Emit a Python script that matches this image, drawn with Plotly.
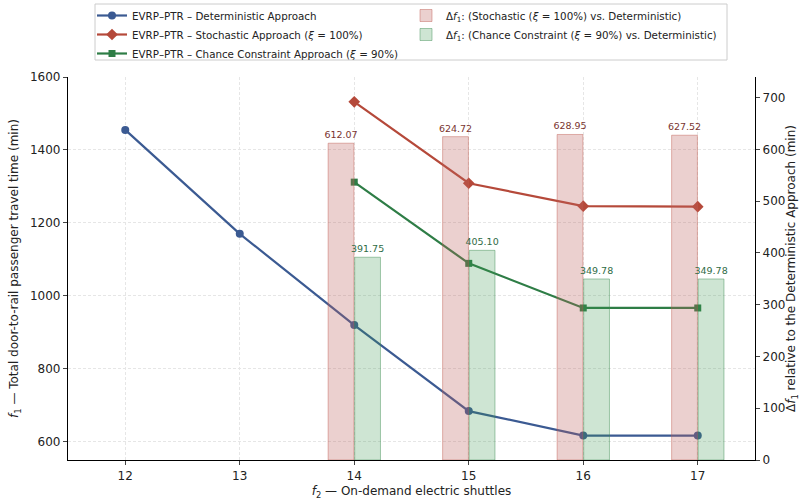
import plotly.graph_objects as go

# Number of on-demand electric shuttles (f2)
shuttles_det = [12, 13, 14, 15, 16, 17]
shuttles_alt = [14, 15, 16, 17]

# Total door-to-rail passenger travel time f1 (min)
f1_deterministic = [1455, 1170, 920, 684, 617, 617]
f1_stochastic = [1532.07, 1308.72, 1245.95, 1244.52]
f1_chance = [1311.75, 1089.10, 966.78, 966.78]

# Differences relative to the deterministic approach (min)
delta_stochastic = [612.07, 624.72, 628.95, 627.52]
delta_chance = [391.75, 405.10, 349.78, 349.78]

BLUE = "#3b5a92"
RED = "#b5493a"
GREEN = "#2e7d46"
FONT = "DejaVu Sans"

# Plot-area geometry (pixels) used to place the legends in paper units
L, R, T, B = 68, 45, 77, 40
PW, PH = 800 - L - R, 500 - T - B

fig = go.Figure()

fig.add_trace(go.Scatter(
    x=shuttles_det, y=f1_deterministic, mode="lines+markers",
    name="EVRP–PTR – Deterministic Approach",
    line=dict(color=BLUE, width=2.2),
    marker=dict(symbol="circle", size=8, color=BLUE),
    legend="legend",
))
fig.add_trace(go.Scatter(
    x=shuttles_alt, y=f1_stochastic, mode="lines+markers",
    name="EVRP–PTR – Stochastic Approach (<i>ξ</i> = 100%)",
    line=dict(color=RED, width=2.2),
    marker=dict(symbol="diamond", size=9, color=RED),
    legend="legend",
))
fig.add_trace(go.Scatter(
    x=shuttles_alt, y=f1_chance, mode="lines+markers",
    name="EVRP–PTR – Chance Constraint Approach (<i>ξ</i> = 90%)",
    line=dict(color=GREEN, width=2.2),
    marker=dict(symbol="square", size=7, color=GREEN),
    legend="legend",
))

# Difference bars on the secondary axis (drawn above the lines)
fig.add_trace(go.Bar(
    x=shuttles_alt, y=delta_stochastic, yaxis="y2",
    name="Δ<i>f</i><sub>1</sub>: (Stochastic (<i>ξ</i> = 100%) vs. Deterministic)",
    width=0.225, offset=-0.228,
    marker=dict(color="rgba(190,100,95,0.30)",
                line=dict(color="rgba(190,90,80,0.45)", width=1)),
    text=[f"{v:.2f}" for v in delta_stochastic], textposition="outside",
    textfont=dict(color="#7a3530", size=9.5, family=FONT),
    constraintext="none", cliponaxis=False,
    legend="legend2",
))
fig.add_trace(go.Bar(
    x=shuttles_alt, y=delta_chance, yaxis="y2",
    name="Δ<i>f</i><sub>1</sub>: (Chance Constraint (<i>ξ</i> = 90%) vs. Deterministic)",
    width=0.225, offset=0.004,
    marker=dict(color="rgba(60,150,80,0.25)",
                line=dict(color="rgba(60,140,80,0.45)", width=1)),
    text=[f"{v:.2f}" for v in delta_chance], textposition="outside",
    textfont=dict(color="#2f6b45", size=9.5, family=FONT),
    constraintext="none", cliponaxis=False,
    legend="legend2",
))

grid = dict(showgrid=True, gridcolor="#e6e6e6", griddash="3px,2px", gridwidth=0.8)
tickfont = dict(size=12, color="#222")
legend_common = dict(
    orientation="v", xanchor="left", yanchor="top",
    bgcolor="rgba(0,0,0,0)", borderwidth=0, font=dict(size=10.3, color="#222"),
    itemwidth=30, tracegroupgap=0,
)

fig.update_layout(
    width=800, height=500,
    margin=dict(l=L, r=R, t=T, b=B, autoexpand=False),
    plot_bgcolor="white", paper_bgcolor="white",
    font=dict(family=FONT, size=11, color="#222"),
    barmode="overlay",
    xaxis=dict(
        range=[11.5, 17.5], tickvals=shuttles_det, ticks="outside", ticklen=4,
        tickfont=tickfont, showline=True, linecolor="black", linewidth=1.2,
        zeroline=False,
        title=dict(text="<i>f</i><sub>2</sub> — On-demand electric shuttles",
                   font=dict(size=12), standoff=8),
        **grid,
    ),
    yaxis=dict(
        range=[550, 1600], tickvals=[600, 800, 1000, 1200, 1400, 1600],
        ticks="outside", ticklen=4, tickfont=tickfont, showline=True,
        linecolor="black", linewidth=1.2, zeroline=False,
        title=dict(text="<i>f</i><sub>1</sub> — Total door-to-rail passenger travel time (min)",
                   font=dict(size=12), standoff=8),
        **grid,
    ),
    yaxis2=dict(
        overlaying="y", side="right", range=[0, 740],
        tickvals=[0, 100, 200, 300, 400, 500, 600, 700],
        ticks="outside", ticklen=4, tickfont=tickfont, showline=True,
        linecolor="black", linewidth=1.2, showgrid=False, zeroline=False,
        title=dict(text="Δ<i>f</i><sub>1</sub> relative to the Deterministic Approach (min)",
                   font=dict(size=12), standoff=12),
    ),
    legend=dict(x=(92 - L) / PW, y=1 + (T - 1) / PH, **legend_common),
    legend2=dict(x=(406 - L) / PW, y=1 + (T - 1) / PH, **legend_common),
    shapes=[dict(
        type="rect", xref="paper", yref="paper",
        x0=(95 - L) / PW, x1=(727 - L) / PW,
        y0=1 + (T - 60) / PH, y1=1 + (T - 4) / PH,
        line=dict(color="#cccccc", width=1), fillcolor="rgba(0,0,0,0)",
    )],
)

fig.write_html("out.html")
